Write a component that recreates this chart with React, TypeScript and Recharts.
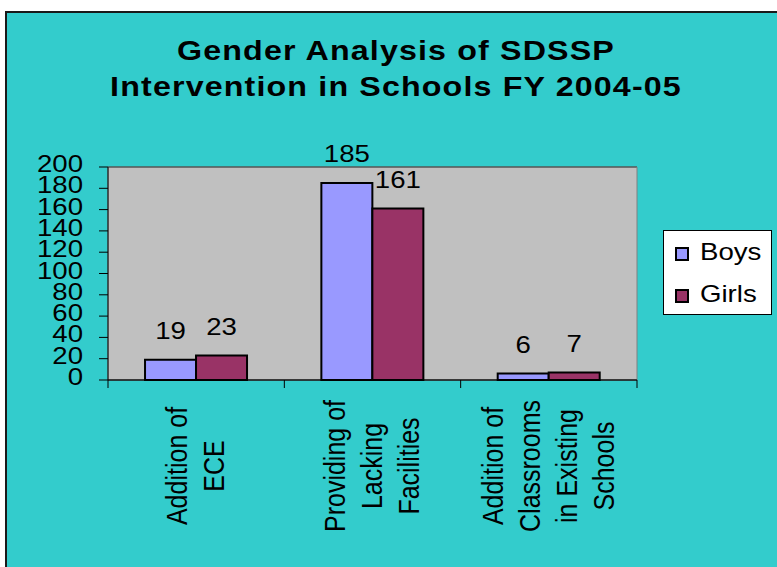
import { BarChart, Bar, XAxis, YAxis, CartesianGrid, LabelList, ReferenceArea } from "recharts";

const FONT = '"Liberation Sans", Arial, sans-serif';
const SX = 1.15; // the source picture is a little stretched sideways

const categories = ["Addition of ECE", "Providing of Lacking Facilities", "Addition of Classrooms in Existing Schools"];
const categoryLines = [
  ["Addition of", "ECE"],
  ["Providing of", "Lacking", "Facilities"],
  ["Addition of", "Classrooms", "in Existing", "Schools"],
];
const boys = [19, 185, 6];
const girls = [23, 161, 7];
const seriesNames = ["Boys", "Girls"];
const seriesColors = ["#9999FF", "#993366"];
const yTicks = [0, 20, 40, 60, 80, 100, 120, 140, 160, 180, 200];
const titleLines = ["Gender Analysis of SDSSP", "Intervention in Schools FY 2004-05"];

const data = categories.map((name, i) => ({ name, Boys: boys[i], Girls: girls[i] }));

function YTick(props: any) {
  const { x, y, payload } = props;
  return (
    <g transform={`translate(${x},${y}) scale(${SX},1)`}>
      <text x={0} y={0} dy={5} textAnchor="end" fontSize={24} fill="#000" fontFamily={FONT}>
        {payload.value}
      </text>
    </g>
  );
}

function XTick(props: any) {
  const { x, y, payload, index } = props;
  const lines = categoryLines[payload.index ?? index] || [];
  const half = payload.offset || 0;
  const gap = 37;
  return (
    <g>
      {index === 0 && <line x1={x - half} x2={x - half} y1={y} y2={y + 8} stroke="#000" />}
      <line x1={x + half} x2={x + half} y1={y} y2={y + 8} stroke="#000" />
      <g transform={`translate(${x},${y + 86}) scale(${SX},1)`}>
        <text transform="rotate(-90)" textAnchor="middle" fontSize={25} fill="#000" fontFamily={FONT}>
          {lines.map((l, i) => (
            <tspan key={i} x={0} y={((i - (lines.length - 1) / 2) * gap) / SX + 8}>
              {l}
            </tspan>
          ))}
        </text>
      </g>
    </g>
  );
}

const valueLabel = (props: any) => {
  const { x, y, width, value } = props;
  return (
    <g transform={`translate(${x + width / 2},${y - 21}) scale(${SX},1)`}>
      <text x={0} y={0} textAnchor="middle" fontSize={24} fill="#000" fontFamily={FONT}>
        {value}
      </text>
    </g>
  );
};

export default function App() {
  return (
    <div style={{ position: "fixed", inset: 0, overflow: "hidden", background: "#fff", fontFamily: FONT }}>
      <div
        style={{
          position: "absolute",
          left: 5,
          top: 11,
          width: 820,
          height: 620,
          background: "#33CCCC",
          border: "2px solid #1a1a1a",
        }}
      />
      <div
        style={{
          position: "absolute",
          left: 0,
          top: 33,
          width: 792,
          textAlign: "center",
          fontSize: 28,
          lineHeight: "36px",
          fontWeight: "bold",
          letterSpacing: 1,
          color: "#000",
          transform: `scaleX(${SX})`,
          transformOrigin: "396px 0",
        }}
      >
        {titleLines.map((t) => (
          <div key={t}>{t}</div>
        ))}
      </div>
      <div style={{ position: "absolute", left: 0, top: 0 }}>
        <BarChart
          width={777}
          height={567}
          data={data}
          margin={{ top: 167, right: 140, left: 0, bottom: 0 }}
          barCategoryGap="21%"
          barGap={0}
        >
          <CartesianGrid horizontal vertical={false} stroke="#000" fill="#C0C0C0" />
          <ReferenceArea yAxisId="l" y1={0} y2={200} fill="none" stroke="#808080" ifOverflow="visible" />
          <XAxis
            dataKey="name"
            height={187}
            interval={0}
            tickLine={false}
            tickSize={0}
            tickMargin={0}
            axisLine={{ stroke: "#000" }}
            tick={<XTick />}
          />
          <YAxis
            yAxisId="l"
            width={108}
            domain={[0, 200]}
            ticks={yTicks}
            interval={0}
            tickSize={9}
            tickMargin={16}
            axisLine={{ stroke: "#000" }}
            tickLine={{ stroke: "#000" }}
            tick={<YTick />}
          />
          <Bar yAxisId="l" dataKey="Boys" fill={seriesColors[0]} stroke="#000" strokeWidth={2} isAnimationActive={false}>
            <LabelList dataKey="Boys" content={valueLabel} />
          </Bar>
          <Bar yAxisId="l" dataKey="Girls" fill={seriesColors[1]} stroke="#000" strokeWidth={2} isAnimationActive={false}>
            <LabelList dataKey="Girls" content={valueLabel} />
          </Bar>
        </BarChart>
      </div>
      <div
        style={{
          position: "absolute",
          left: 663,
          top: 230,
          width: 109,
          height: 85,
          boxSizing: "border-box",
          background: "#fff",
          border: "1px solid #000",
        }}
      />
      {seriesNames.map((n, i) => (
        <div key={n}>
          <div
            style={{
              position: "absolute",
              left: 675,
              top: 247 + i * 42,
              width: 14,
              height: 14,
              boxSizing: "border-box",
              background: seriesColors[i],
              border: "2px solid #000",
            }}
          />
          <div
            style={{
              position: "absolute",
              left: 700,
              top: 240 + i * 42,
              fontSize: 24,
              lineHeight: "24px",
              color: "#000",
              transform: `scaleX(${SX})`,
              transformOrigin: "0 0",
            }}
          >
            {n}
          </div>
        </div>
      ))}
    </div>
  );
}
